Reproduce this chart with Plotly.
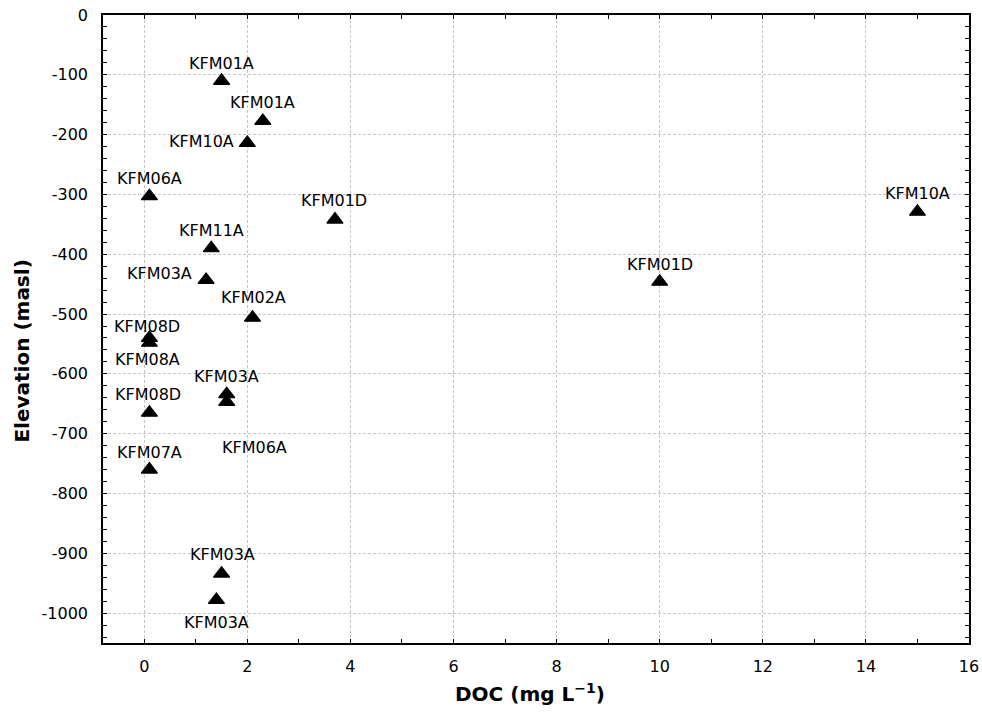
import plotly.graph_objects as go

# Sampling points: DOC concentration vs. elevation
labels = ["KFM01A", "KFM01A", "KFM10A", "KFM06A", "KFM11A", "KFM03A",
          "KFM02A", "KFM08D", "KFM08A", "KFM03A", "KFM06A", "KFM08D",
          "KFM07A", "KFM03A", "KFM03A", "KFM01D", "KFM01D", "KFM10A"]
doc = [1.5, 2.3, 2.0, 0.1, 1.3, 1.2,
       2.1, 0.1, 0.1, 1.6, 1.6, 0.1,
       0.1, 1.5, 1.4, 3.7, 10.0, 15.0]
elevation = [-110, -177, -214, -303, -390, -443,
             -506, -540, -548, -634, -647, -665,
             -760, -934, -978, -342, -446, -329]

x_ticks = list(range(0, 17, 2))
y_ticks = list(range(-1000, 1, 100))
y_tick_text = [str(v) for v in y_ticks]  # plain hyphen-minus

# label placement relative to each marker: (xanchor, xshift px, yshift px)
label_offsets = [("center", 0, 17), ("center", 0, 18), ("right", -11, 1),
                 ("center", 0, 18), ("center", 0, 18), ("right", -12, 6),
                 ("center", 1, 20), ("center", -2, 11), ("center", -2, -17),
                 ("center", 0, 18), ("center", 28, -46), ("center", -1, 18),
                 ("center", 0, 17), ("center", 1, 19), ("center", 0, -23),
                 ("center", -1, 19), ("center", 0, 17), ("center", 0, 18)]

FONT = "DejaVu Sans, Arial, sans-serif"

fig = go.Figure()
fig.add_trace(go.Scatter(
    x=doc, y=elevation, mode="markers",
    marker=dict(symbol="triangle-up", size=14, color="black",
                line=dict(color="black", width=1.2)),
    showlegend=False, hoverinfo="x+y",
))

annotations = []
for lab, xv, yv, (anc, dx, dy) in zip(labels, doc, elevation, label_offsets):
    annotations.append(dict(
        x=xv, y=yv, xref="x", yref="y", text=lab, showarrow=False,
        xanchor=anc, yanchor="middle", xshift=dx, yshift=dy,
        font=dict(family=FONT, size=16, color="black"),
    ))

# axis titles
annotations.append(dict(
    x=0.493, y=-0.079, xref="paper", yref="paper",
    text="<b>DOC (mg L<sup>\u22121</sup>)</b>", showarrow=False,
    xanchor="center", yanchor="middle",
    font=dict(family=FONT, size=20, color="black"),
))
annotations.append(dict(
    x=-0.094, y=0.465, xref="paper", yref="paper",
    text="<b>Elevation (masl)</b>", showarrow=False, textangle=-90,
    xanchor="center", yanchor="middle",
    font=dict(family=FONT, size=20, color="black"),
))

axis_common = dict(
    showline=True, linecolor="black", linewidth=1.6, mirror="allticks",
    ticks="inside", ticklen=4, tickwidth=1, tickcolor="black",
    showgrid=True, gridcolor="#c4c4c4", gridwidth=1, griddash="3px,2px",
    zeroline=False, automargin=False,
    tickfont=dict(family=FONT, size=16, color="black"),
)

fig.update_xaxes(
    range=[-0.8, 16], tickmode="array", tickvals=x_ticks,
    ticklabelstandoff=8,
    minor=dict(dtick=1, tick0=0, ticks="inside", ticklen=4,
               tickcolor="black", showgrid=False),
    **axis_common,
)
fig.update_yaxes(
    range=[-1050, 0], tickmode="array", tickvals=y_ticks,
    ticktext=y_tick_text,
    ticklabelstandoff=10,
    minor=dict(dtick=20, tick0=0, ticks="inside", ticklen=4,
               tickcolor="black", showgrid=False),
    **axis_common,
)

fig.update_layout(
    width=982, height=716,
    margin=dict(l=103, r=13, t=15, b=73),
    paper_bgcolor="white", plot_bgcolor="white",
    annotations=annotations,
    font=dict(family=FONT, color="black"),
)

fig.write_html("out.html")
